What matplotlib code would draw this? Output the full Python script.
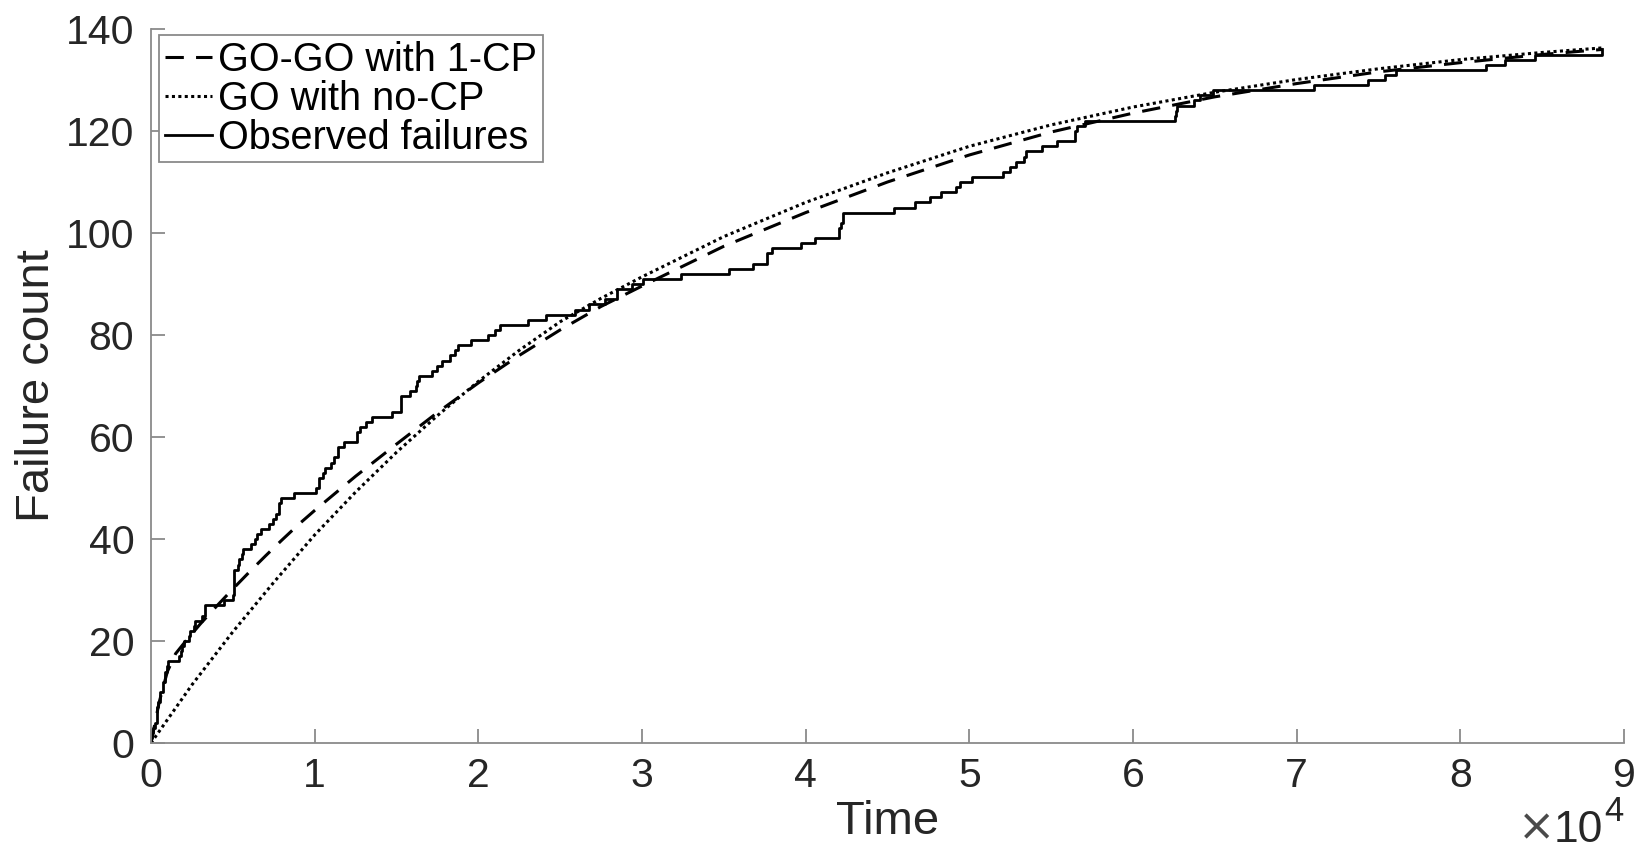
import numpy as np
import matplotlib
matplotlib.use("Agg")
import matplotlib.pyplot as plt
from matplotlib.ticker import FuncFormatter

plt.rcParams['font.family'] = ['Liberation Sans', 'DejaVu Sans']

# ---- data ----
# cumulative failure times of observed failures (seconds)
failure_times = [3, 33, 146, 227, 342, 351, 353, 444, 556, 571, 709, 759, 836, 860, 968, 1056,
                 1726, 1846, 1872, 1986, 2311, 2366, 2608, 2676, 3098, 3278, 3288, 4434, 5034,
                 5049, 5085, 5089, 5089, 5097, 5324, 5389, 5565, 5623, 6080, 6380, 6477, 6740,
                 7192, 7447, 7644, 7837, 7843, 7922, 8738, 10089, 10237, 10258, 10491, 10625,
                 10982, 11175, 11411, 11442, 11811, 12559, 12559, 12791, 13121, 13486, 14708,
                 15251, 15261, 15277, 15806, 16185, 16229, 16358, 17168, 17458, 17758, 18287,
                 18568, 18728, 19556, 20567, 21012, 21308, 23063, 24127, 25910, 26770, 27753,
                 28460, 28493, 29361, 30085, 32408, 35338, 36799, 37642, 37654, 37915, 39715,
                 40580, 42015, 42045, 42188, 42296, 42296, 45406, 46653, 47596, 48296, 49171,
                 49416, 50145, 52042, 52489, 52875, 53321, 53443, 54433, 55381, 56463, 56485,
                 56560, 57042, 62551, 62651, 62661, 63732, 64103, 64893, 71043, 74364, 75409,
                 76057, 81542, 82702, 84566, 88682]

# GO-GO with 1 change point (mean value curve), time in 1e4 units
gogo_t = [0, 0.05, 0.1, 0.15, 0.2, 0.3, 0.4, 0.5, 0.6, 0.7, 0.8, 0.9, 1.0, 1.25, 1.5, 1.75,
          2.0, 2.25, 2.5, 2.75, 3.0, 3.5, 4.0, 4.5, 5.0, 5.5, 6.0, 6.5, 7.0, 7.5, 8.0, 8.5, 8.87]
gogo_v = [0, 8, 14, 17.5, 19.5, 23.3, 26.8, 30.2, 33.5, 36.7, 39.8, 42.8, 45.6, 52.3, 58.6,
          64.8, 70.6, 76, 81, 85.6, 89.6, 97.4, 104, 110, 115.3, 119.8, 123.5, 126.7, 129.3,
          131.6, 133.4, 135, 136]

# GO with no change point
go_t = [0, 0.25, 0.5, 0.75, 1, 1.25, 1.5, 1.75, 2, 2.25, 2.5, 2.75, 3, 3.5, 4, 4.5, 5, 5.5,
        6, 6.5, 7, 7.5, 8, 8.5, 8.87]
go_v = [0, 11.4, 21.8, 31.5, 40.8, 49.2, 57, 64.2, 70.9, 77, 82.6, 87.2, 91.4, 99.3, 106,
        111.8, 117, 121.2, 124.7, 127.6, 130.1, 132.2, 134, 135.4, 136.3]

labels = ["GO-GO with 1-CP", "GO with no-CP", "Observed failures"]
x_ticks = [0, 1, 2, 3, 4, 5, 6, 7, 8, 9]
y_ticks = [0, 20, 40, 60, 80, 100, 120, 140]

# ---- plot ----
W, H = 1644, 851
fig = plt.figure(figsize=(W / 100, H / 100), dpi=100)
ax = fig.add_axes([0.09185, 0.12691, 0.89598, 0.83901])

axis_gray = '#8a8a8a'
text_col = '#262626'
scale = 1e4

l1, = ax.plot(np.array(gogo_t) * scale, gogo_v, color='black', lw=2.2,
              linestyle=(0, (6, 4)), label=labels[0])
l2, = ax.plot(np.array(go_t) * scale, go_v, color='black', lw=2.2,
              linestyle=(0, (1, 1.1)), label=labels[1])
steps_x = np.r_[0, failure_times]
steps_y = np.arange(len(steps_x))
l3, = ax.step(steps_x, steps_y, where='post', color='black', lw=2.0, label=labels[2])

ax.set_xlim(0, 9e4)
ax.set_ylim(0, 140)
ax.set_xticks([t * scale for t in x_ticks])
ax.xaxis.set_major_formatter(FuncFormatter(lambda v, p: f"{v / scale:g}"))
ax.set_yticks(y_ticks)

for s in ['top', 'right']:
    ax.spines[s].set_visible(False)
for s in ['left', 'bottom']:
    ax.spines[s].set_color(axis_gray)
    ax.spines[s].set_linewidth(1.3)

ax.tick_params(axis='both', direction='in', length=10, width=1.3, color=axis_gray,
               labelcolor=text_col, labelsize=29.5)
ax.tick_params(axis='x', pad=10)
ax.tick_params(axis='y', pad=12)

ax.set_xlabel("Time", fontsize=34, color=text_col, va='top')
ax.xaxis.set_label_coords(0.5, -0.080)
ax.set_ylabel("Failure count", fontsize=34, color=text_col, va='bottom')
ax.yaxis.set_label_coords(-0.0625, 0.5)

# x10^4 multiplier at bottom right
fig.text(1550 / W, 1 - 839 / H, r"$\times$", ha='right', va='baseline',
         fontsize=32, color='#4a4a4a')
fig.text(1603 / W, 1 - 842 / H, "10", ha='right', va='baseline',
         fontsize=32, color=text_col)
fig.text(1604 / W, 1 - 821 / H, "4", ha='left', va='baseline',
         fontsize=25, color=text_col)

leg = ax.legend(handles=[l1, l2, l3], loc='upper left',
                bbox_to_anchor=(159 / W, 1 - 35 / H), bbox_transform=fig.transFigure,
                fontsize=28.5, frameon=True, fancybox=False, framealpha=1,
                edgecolor=axis_gray, borderpad=0.15, labelspacing=0.02,
                handlelength=1.2, handletextpad=0.15, borderaxespad=0)
leg.get_frame().set_linewidth(1.3)

fig.savefig("out.png", dpi=100, facecolor='white')
